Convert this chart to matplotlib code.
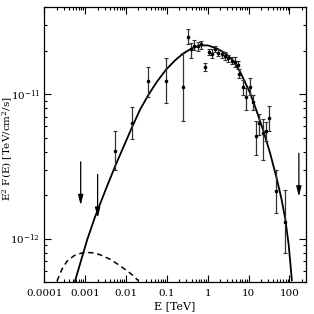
#!/usr/bin/env python3

import matplotlib
matplotlib.use('Agg')
import matplotlib.pyplot as plt
from matplotlib.ticker import FixedLocator, NullFormatter
import numpy as np

# data points: energy [TeV], E^2 F(E), lower and upper ends of error bar
energy = [5.35e-3, 0.014, 0.035, 0.093, 0.244, 0.335, 0.396, 0.467, 0.562, 0.686,
          0.843, 1.08, 1.25, 1.51, 1.82, 2.2, 2.65, 3.2, 3.87, 4.67,
          5.53, 5.96, 7.21, 8.54, 10.5, 12.7, 15.4, 18.4, 22.3, 26.4,
          32.4, 47.2, 79.8]
flux = [4.06e-12, 6.3e-12, 1.24e-11, 1.24e-11, 1.12e-11, 2.50e-11, 2.04e-11, 2.17e-11, 2.17e-11, 2.22e-11,
        1.55e-11, 1.96e-11, 1.91e-11, 2.07e-11, 1.94e-11, 1.90e-11, 1.85e-11, 1.78e-11, 1.71e-11, 1.67e-11,
        1.59e-11, 1.39e-11, 1.12e-11, 9.58e-12, 1.13e-11, 8.78e-12, 5.12e-12, 6.34e-12, 5.41e-12, 5.52e-12,
        6.83e-12, 2.13e-12, 1.3e-12]
flux_lo = [2.97e-12, 4.9e-12, 9.6e-12, 8.7e-12, 6.5e-12, 2.22e-11, 1.77e-11, 2.02e-11, 1.99e-11, 2.05e-11,
           1.45e-11, 1.87e-11, 1.77e-11, 1.97e-11, 1.84e-11, 1.78e-11, 1.72e-11, 1.67e-11, 1.61e-11, 1.55e-11,
           1.50e-11, 1.30e-11, 9.9e-12, 7.8e-12, 9.9e-12, 7.8e-12, 3.78e-12, 5.24e-12, 3.52e-12, 4.76e-12,
           5.58e-12, 1.51e-12, 7.9e-13]
flux_hi = [5.52e-12, 8.1e-12, 1.55e-11, 1.77e-11, 1.94e-11, 2.81e-11, 2.25e-11, 2.37e-11, 2.31e-11, 2.35e-11,
           1.64e-11, 2.07e-11, 2.05e-11, 2.17e-11, 2.05e-11, 2.0e-11, 1.97e-11, 1.88e-11, 1.81e-11, 1.80e-11,
           1.70e-11, 1.49e-11, 1.26e-11, 1.10e-11, 1.30e-11, 9.9e-12, 6.47e-12, 7.31e-12, 6.76e-12, 6.44e-12,
           8.3e-12, 3.0e-12, 2.16e-12]

# upper limits
ul_energy = [7.7e-4, 2.0e-3, 170.0]
ul_flux = [3.4e-12, 2.78e-12, 3.9e-12]

# model curves (log10 E, log10 E^2 F)
model_logE = [-3.252, -2.951, -2.762, -2.5, -2.272, -2.05, -1.855, -1.656, -1.456, -1.25,
              -1.029, -0.8, -0.598, -0.4, -0.189, 0.0, 0.221, 0.45, 0.627, 0.792,
              1.037, 1.2, 1.363, 1.527, 1.68, 1.80, 1.895, 1.98, 2.059]
model_logF = [-12.294, -12.005, -11.85, -11.66, -11.5, -11.355, -11.228, -11.105, -11.005, -10.915,
              -10.832, -10.765, -10.717, -10.684, -10.662, -10.662, -10.683, -10.72, -10.77, -10.845,
              -10.993, -11.12, -11.255, -11.41, -11.575, -11.72, -11.86, -12.04, -12.29]
low_logE = [-3.694, -3.571, -3.449, -3.277, -3.056, -2.836, -2.640, -2.395, -2.150, -1.904, -1.701]
low_logF = [-12.294, -12.212, -12.157, -12.119, -12.097, -12.098, -12.112, -12.143, -12.188, -12.239, -12.292]

# axis ticks
xticks = [1e-4, 1e-3, 1e-2, 1e-1, 1, 10, 100]
xticklabels = ['0.0001', '0.001', '0.01', '0.1', '1', '10', '100']
yticks = [1e-12, 1e-11]
yticklabels = [r'$10^{-12}$', r'$10^{-11}$']

plt.rcParams['font.family'] = 'DejaVu Serif'
plt.rcParams['mathtext.fontset'] = 'dejavuserif'

fig = plt.figure(figsize=(3.14, 3.14), dpi=100)
ax = fig.add_axes([0.1417, 0.1019, 0.8319, 0.8749])

ax.plot(10**np.array(model_logE), 10**np.array(model_logF), color='k', lw=1.3)
ax.plot(10**np.array(low_logE), 10**np.array(low_logF), color='k', lw=1.1, ls=(0, (3.5, 2.5)))

f = np.array(flux)
yerr = [f - np.array(flux_lo), np.array(flux_hi) - f]
ax.errorbar(energy, flux, yerr=yerr, fmt='o', ms=1.6, color='k', ecolor='#333333',
            elinewidth=0.9, capsize=1.3, capthick=0.8)

for e, u in zip(ul_energy, ul_flux):
    ax.annotate('', xy=(e, u / 2.0), xytext=(e, u),
                arrowprops=dict(arrowstyle='-|>,head_length=0.6,head_width=0.15',
                                color='k', lw=0.9, shrinkA=0, shrinkB=0))

ax.set_xscale('log')
ax.set_yscale('log')
ax.set_xlim(1e-4, 250)
ax.set_ylim(5e-13, 4e-11)

ax.set_xticks(xticks)
ax.set_xticklabels(xticklabels)
ax.set_yticks(yticks)
ax.set_yticklabels(yticklabels)

# minor ticks at 2..9 of each decade, only inside the view
xminor = [m * 10.0**d for d in range(-4, 3) for m in range(2, 10) if m * 10.0**d < 250]
yminor = [m * 10.0**d for d in range(-13, -10) for m in range(2, 10) if 5e-13 <= m * 10.0**d <= 4e-11]
ax.xaxis.set_minor_locator(FixedLocator(xminor))
ax.yaxis.set_minor_locator(FixedLocator(yminor))
ax.xaxis.set_minor_formatter(NullFormatter())
ax.yaxis.set_minor_formatter(NullFormatter())

ax.tick_params(which='both', direction='in', top=True, right=True, labelsize=7.5, width=0.8)
ax.tick_params(which='major', length=5)
ax.tick_params(which='minor', length=2.5)
ax.tick_params(axis='x', pad=5)
ax.tick_params(axis='y', pad=3)
for s in ax.spines.values():
    s.set_linewidth(0.9)

ax.set_xlabel('E [TeV]', fontsize=8, labelpad=2)
ax.set_ylabel(r'E$^2$ F(E) [TeV/cm$^2$/s]', fontsize=7.5)
ax.yaxis.set_label_coords(-0.114, 0.484)

fig.savefig('out.png', dpi=100)
